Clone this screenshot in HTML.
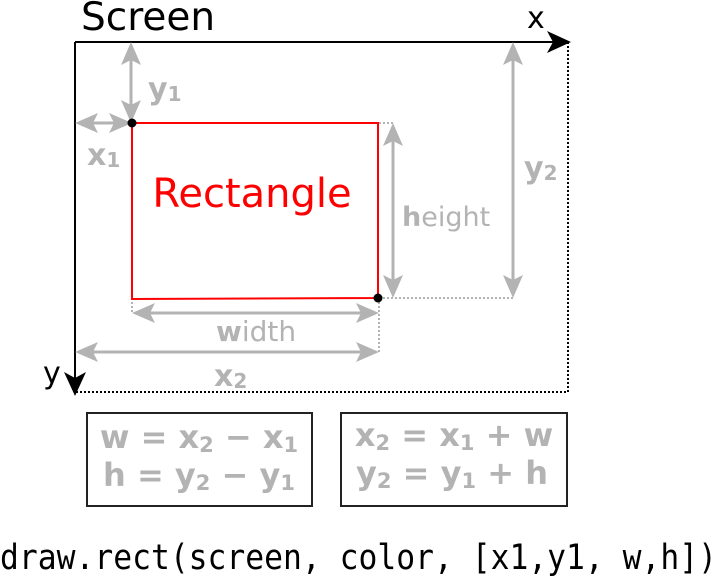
<!DOCTYPE html>
<html><head><meta charset="utf-8"><style>html,body{margin:0;padding:0;background:#fff}svg{display:block}</style></head>
<body>
<svg width="719" height="579" viewBox="0 0 719 579" xmlns="http://www.w3.org/2000/svg" font-family="DejaVu Sans, Liberation Sans, sans-serif">
<text x="81" y="30" font-size="39" fill="#000">Screen</text>
<text x="527" y="28" font-size="30" fill="#000">x</text>
<text x="43" y="383" font-size="30" fill="#000">y</text>
<!-- dotted screen edges -->
<path d="M568,42 V392 H75" fill="none" stroke="#000" stroke-width="2" stroke-dasharray="2,2"/>
<!-- axes -->
<line x1="75" y1="42" x2="560" y2="42" stroke="#000" stroke-width="2"/>
<line x1="75" y1="42" x2="75" y2="385" stroke="#000" stroke-width="2"/>
<path d="M571,42 L547,31 L553,42 L547,53 Z" fill="#000"/>
<path d="M75,396 L64,372 L75,378 L86,372 Z" fill="#000"/>
<!-- grey dotted guides -->
<g stroke="#b3b3b3" stroke-width="2" stroke-dasharray="2,2" fill="none">
<line x1="379" y1="123" x2="395" y2="123"/>
<line x1="379" y1="298" x2="514" y2="298"/>
<line x1="379" y1="298" x2="379" y2="352"/>
<line x1="132" y1="298" x2="132" y2="313"/>
</g>
<!-- grey arrows -->
<g stroke="#b3b3b3" stroke-width="3" fill="none">
<line x1="131" y1="55" x2="131" y2="110"/>
<line x1="88" y1="123" x2="120" y2="123"/>
<line x1="393" y1="135" x2="393" y2="286"/>
<line x1="513" y1="55" x2="513" y2="286"/>
<line x1="145" y1="313" x2="366" y2="313"/>
<line x1="88" y1="352" x2="366" y2="352"/>
</g>
<g fill="#b3b3b3">
<!-- y1 -->
<path d="M131,42 L121,65 L131,60 L141,65 Z"/><path d="M131,123 L121,100 L131,105 L141,100 Z"/>
<!-- x1 -->
<path d="M75,123 L98,113 L93,123 L98,133 Z"/><path d="M132,123 L109,113 L114,123 L109,133 Z"/>
<!-- height -->
<path d="M393,123 L383,146 L393,141 L403,146 Z"/><path d="M393,298 L383,275 L393,280 L403,275 Z"/>
<!-- y2 -->
<path d="M513,42 L503,65 L513,60 L523,65 Z"/><path d="M513,298 L503,275 L513,280 L523,275 Z"/>
<!-- width -->
<path d="M132,313 L155,303 L150,313 L155,323 Z"/><path d="M379,313 L356,303 L361,313 L356,323 Z"/>
<!-- x2 -->
<path d="M75,352 L98,342 L93,352 L98,362 Z"/><path d="M379,352 L356,342 L361,352 L356,362 Z"/>
</g>
<!-- rectangle -->
<path d="M132,123 H378 V298 L132,299 Z" fill="none" stroke="#f00" stroke-width="2"/>
<circle cx="132" cy="123" r="4.5" fill="#000"/>
<circle cx="378" cy="298" r="4.5" fill="#000"/>
<text x="252" y="207" font-size="40" fill="#f00" text-anchor="middle">Rectangle</text>
<!-- grey labels -->
<g fill="#b3b3b3" font-weight="bold">
<text x="148" y="99" font-size="30">y<tspan font-size="20" dy="2">1</tspan></text>
<text x="87" y="165" font-size="30">x<tspan font-size="20" dy="2">1</tspan></text>
<text x="524" y="178" font-size="30">y<tspan font-size="20" dy="2">2</tspan></text>
<text x="214" y="386" font-size="30">x<tspan font-size="20" dy="2">2</tspan></text>
<text x="216" y="341" font-size="28">w<tspan font-weight="normal">idth</tspan></text>
<text x="402" y="226" font-size="27">h<tspan font-weight="normal">eight</tspan></text>
</g>
<!-- formula boxes -->
<rect x="87" y="413" width="225" height="93" fill="none" stroke="#222" stroke-width="2"/>
<rect x="341" y="413" width="226" height="93" fill="none" stroke="#222" stroke-width="2"/>
<g fill="#b3b3b3" font-weight="bold" font-size="32" text-anchor="middle">
<text x="199" y="448">w = x<tspan font-size="21" dy="4">2</tspan><tspan dy="-4"> − x</tspan><tspan font-size="21" dy="4">1</tspan></text>
<text x="199" y="486">h = y<tspan font-size="21" dy="4">2</tspan><tspan dy="-4"> − y</tspan><tspan font-size="21" dy="4">1</tspan></text>
<text x="454" y="446">x<tspan font-size="21" dy="4">2</tspan><tspan dy="-4"> = x</tspan><tspan font-size="21" dy="4">1</tspan><tspan dy="-4"> + w</tspan></text>
<text x="452" y="484">y<tspan font-size="21" dy="4">2</tspan><tspan dy="-4"> = y</tspan><tspan font-size="21" dy="4">1</tspan><tspan dy="-4"> + h</tspan></text>
</g>
<text x="0" y="569" font-family="DejaVu Sans Mono, Liberation Mono, monospace" font-size="35" fill="#000" textLength="717" lengthAdjust="spacingAndGlyphs">draw.rect(screen, color, [x1,y1, w,h])</text>
</svg>
</body></html>
